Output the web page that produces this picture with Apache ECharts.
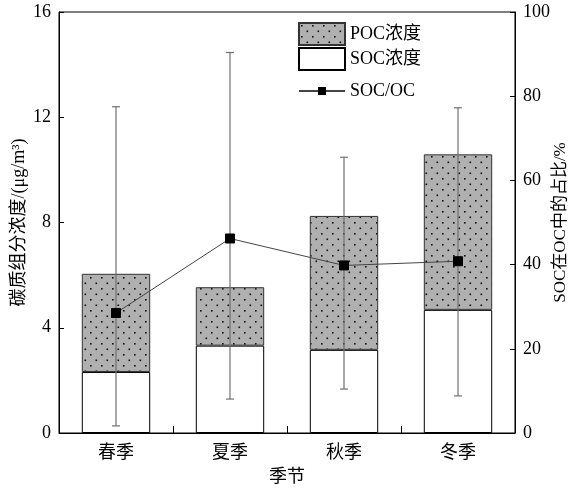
<!DOCTYPE html>
<html><head><meta charset="utf-8">
<script src="https://cdn.jsdelivr.net/npm/echarts@6/dist/echarts.min.js"></script>
<style>html,body{margin:0;padding:0;background:#fff}#c{width:570px;height:489px}</style>
</head><body><div id="c"></div>
<script>
var seasons = ['春季', '夏季', '秋季', '冬季'];
var socConc = [2.32, 3.32, 3.16, 4.68];
var ocTotal = [6.05, 5.54, 8.25, 10.59];
var pocConc = ocTotal.map(function (t, i) { return +(t - socConc[i]).toFixed(2); });
var errLow = [0.27, 1.29, 1.67, 1.41];
var errHigh = [12.40, 14.46, 10.48, 12.36];
var socRatio = [28.5, 46.2, 39.8, 40.8];
var leftTicks = [0, 4, 8, 12, 16];
var rightTicks = [0, 20, 40, 60, 80, 100];

var pc = document.createElement('canvas');
pc.width = 11; pc.height = 11;
var g = pc.getContext('2d');
g.fillStyle = '#b0b0b0'; g.fillRect(0, 0, 11, 11);
g.fillStyle = '#111';
g.fillRect(2, 2, 1.6, 1.6);
g.fillRect(7.5, 7.5, 1.6, 1.6);
var pattern = { image: pc, repeat: 'repeat' };

var serif = '"Liberation Serif", "Times New Roman", "Noto Sans CJK SC", serif';
var chart = echarts.init(document.getElementById('c'), null, { renderer: 'canvas' });
var errData = seasons.map(function (s, i) { return [i, errLow[i], errHigh[i]]; });
var legText = { fontFamily: serif, fontSize: 18, color: '#000' };

chart.setOption({
  animation: false,
  textStyle: { fontFamily: serif, color: '#000' },
  grid: { left: 59, right: 55, top: 12, bottom: 56, show: true, borderColor: '#000', borderWidth: 1,
    containLabel: false, outerBoundsMode: 'none' },
  legend: [
    { data: [{ name: 'POC浓度', icon: 'rect' }], left: 293, top: 17, itemWidth: 46, itemHeight: 22,
      textStyle: legText, selectedMode: false },
    { data: [{ name: 'SOC浓度', icon: 'rect' }], left: 293, top: 42, itemWidth: 46, itemHeight: 22,
      textStyle: legText, selectedMode: false },
    { data: ['SOC/OC'], left: 293, top: 77, itemWidth: 46, itemHeight: 10,
      textStyle: legText, selectedMode: false }
  ],
  xAxis: {
    type: 'category', data: seasons, boundaryGap: true,
    name: '季节', nameLocation: 'middle', nameGap: 35,
    nameTextStyle: { fontFamily: serif, fontSize: 18, color: '#000' },
    axisLine: { show: true, onZero: false, lineStyle: { color: '#000' } },
    axisTick: { show: true, inside: true, interval: 0, alignWithLabel: false, length: 7,
      lineStyle: { color: '#000', width: 1 } },
    axisLabel: { fontFamily: serif, fontSize: 18, color: '#000', margin: 11, interval: 0 }
  },
  yAxis: [
    { type: 'value', min: leftTicks[0], max: leftTicks[leftTicks.length - 1], interval: 4,
      name: '碳质组分浓度/(μg/m³)', nameLocation: 'middle', nameGap: 31, nameRotate: 90,
      nameMoveOverlap: false,
      nameTextStyle: { fontFamily: serif, fontSize: 18, color: '#000' },
      axisLine: { show: true, lineStyle: { color: '#000' } },
      axisTick: { show: true, inside: true, length: 5, lineStyle: { color: '#000' } },
      axisLabel: { fontFamily: serif, fontSize: 18, color: '#000', margin: 8 },
      splitLine: { show: false } },
    { type: 'value', min: rightTicks[0], max: rightTicks[rightTicks.length - 1], interval: 20,
      name: 'SOC在OC中的占比/%', nameLocation: 'middle', nameGap: 37, nameRotate: 90,
      nameMoveOverlap: false,
      nameTextStyle: { fontFamily: serif, fontSize: 17, color: '#000' },
      axisLine: { show: true, lineStyle: { color: '#000' } },
      axisTick: { show: true, inside: true, length: 5, lineStyle: { color: '#000' } },
      axisLabel: { fontFamily: serif, fontSize: 18, color: '#000', margin: 8 },
      splitLine: { show: false } }
  ],
  series: [
    { name: 'SOC浓度', type: 'bar', stack: 'oc', data: socConc, barWidth: '60%',
      itemStyle: { color: '#fff', borderColor: '#000', borderWidth: 1 } },
    { name: 'POC浓度', type: 'bar', stack: 'oc', data: pocConc, barWidth: '60%',
      itemStyle: { color: pattern, borderColor: '#333', borderWidth: 1 } },
    { name: 'err', type: 'custom', data: errData, z: 5,
      renderItem: function (params, api) {
        var lo = api.coord([api.value(0), api.value(1)]);
        var hi = api.coord([api.value(0), api.value(2)]);
        var w = 4;
        var st = { stroke: '#707070', lineWidth: 1.2 };
        return { type: 'group', children: [
          { type: 'line', shape: { x1: lo[0], y1: lo[1], x2: hi[0], y2: hi[1] }, style: st },
          { type: 'line', shape: { x1: lo[0] - w, y1: lo[1], x2: lo[0] + w, y2: lo[1] }, style: st },
          { type: 'line', shape: { x1: hi[0] - w, y1: hi[1], x2: hi[0] + w, y2: hi[1] }, style: st }
        ] };
      } },
    { name: 'SOC/OC', type: 'line', yAxisIndex: 1, data: socRatio, z: 10,
      symbol: 'rect', symbolSize: 9,
      lineStyle: { color: '#444', width: 1 },
      itemStyle: { color: '#000', borderColor: '#000' } }
  ]
});
</script></body></html>
